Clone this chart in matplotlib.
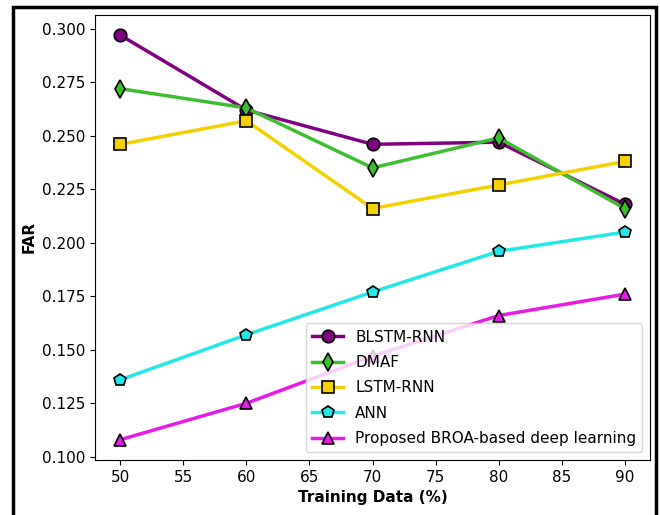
import matplotlib.pyplot as plt
from matplotlib.patches import Rectangle

# FAR vs training data share
training = [50, 60, 70, 80, 90]
blstm_rnn = [0.297, 0.262, 0.246, 0.247, 0.218]
dmaf = [0.272, 0.263, 0.235, 0.249, 0.216]
lstm_rnn = [0.246, 0.257, 0.216, 0.227, 0.238]
ann = [0.136, 0.157, 0.177, 0.196, 0.205]
proposed = [0.108, 0.125, 0.147, 0.166, 0.176]

fig = plt.figure(figsize=(6.6, 5.15), dpi=100)
ax = fig.add_axes([0.144, 0.107, 0.841, 0.864])

style = dict(lw=2.5, ms=9, markeredgecolor='k', markeredgewidth=1.2)
ax.plot(training, blstm_rnn, marker='o', color='purple', label='BLSTM-RNN', **style)
ax.plot(training, dmaf, marker='d', color='#3cbf2e', label='DMAF', **style)
ax.plot(training, lstm_rnn, marker='s', color='#f5d000', label='LSTM-RNN', **style)
ax.plot(training, ann, marker='p', color='#22e8e8', label='ANN', **style)
ax.plot(training, proposed, marker='^', color='#e81ae8', label='Proposed BROA-based deep learning', **style)

ax.set_xlabel('Training Data (%)', fontsize=11, fontweight='bold')
ax.set_ylabel('FAR', fontsize=11, fontweight='bold')
ax.tick_params(labelsize=11)
ax.legend(loc='lower right', fontsize=11, labelspacing=0.68)

# black frame around the figure (cut off at the bottom)
fig.patches.append(Rectangle((13 / 660, -0.05), 643 / 660, 1.05 - 7 / 515,
                             transform=fig.transFigure, fill=False,
                             edgecolor='black', lw=2.5))

fig.savefig('out.png', dpi=100)
